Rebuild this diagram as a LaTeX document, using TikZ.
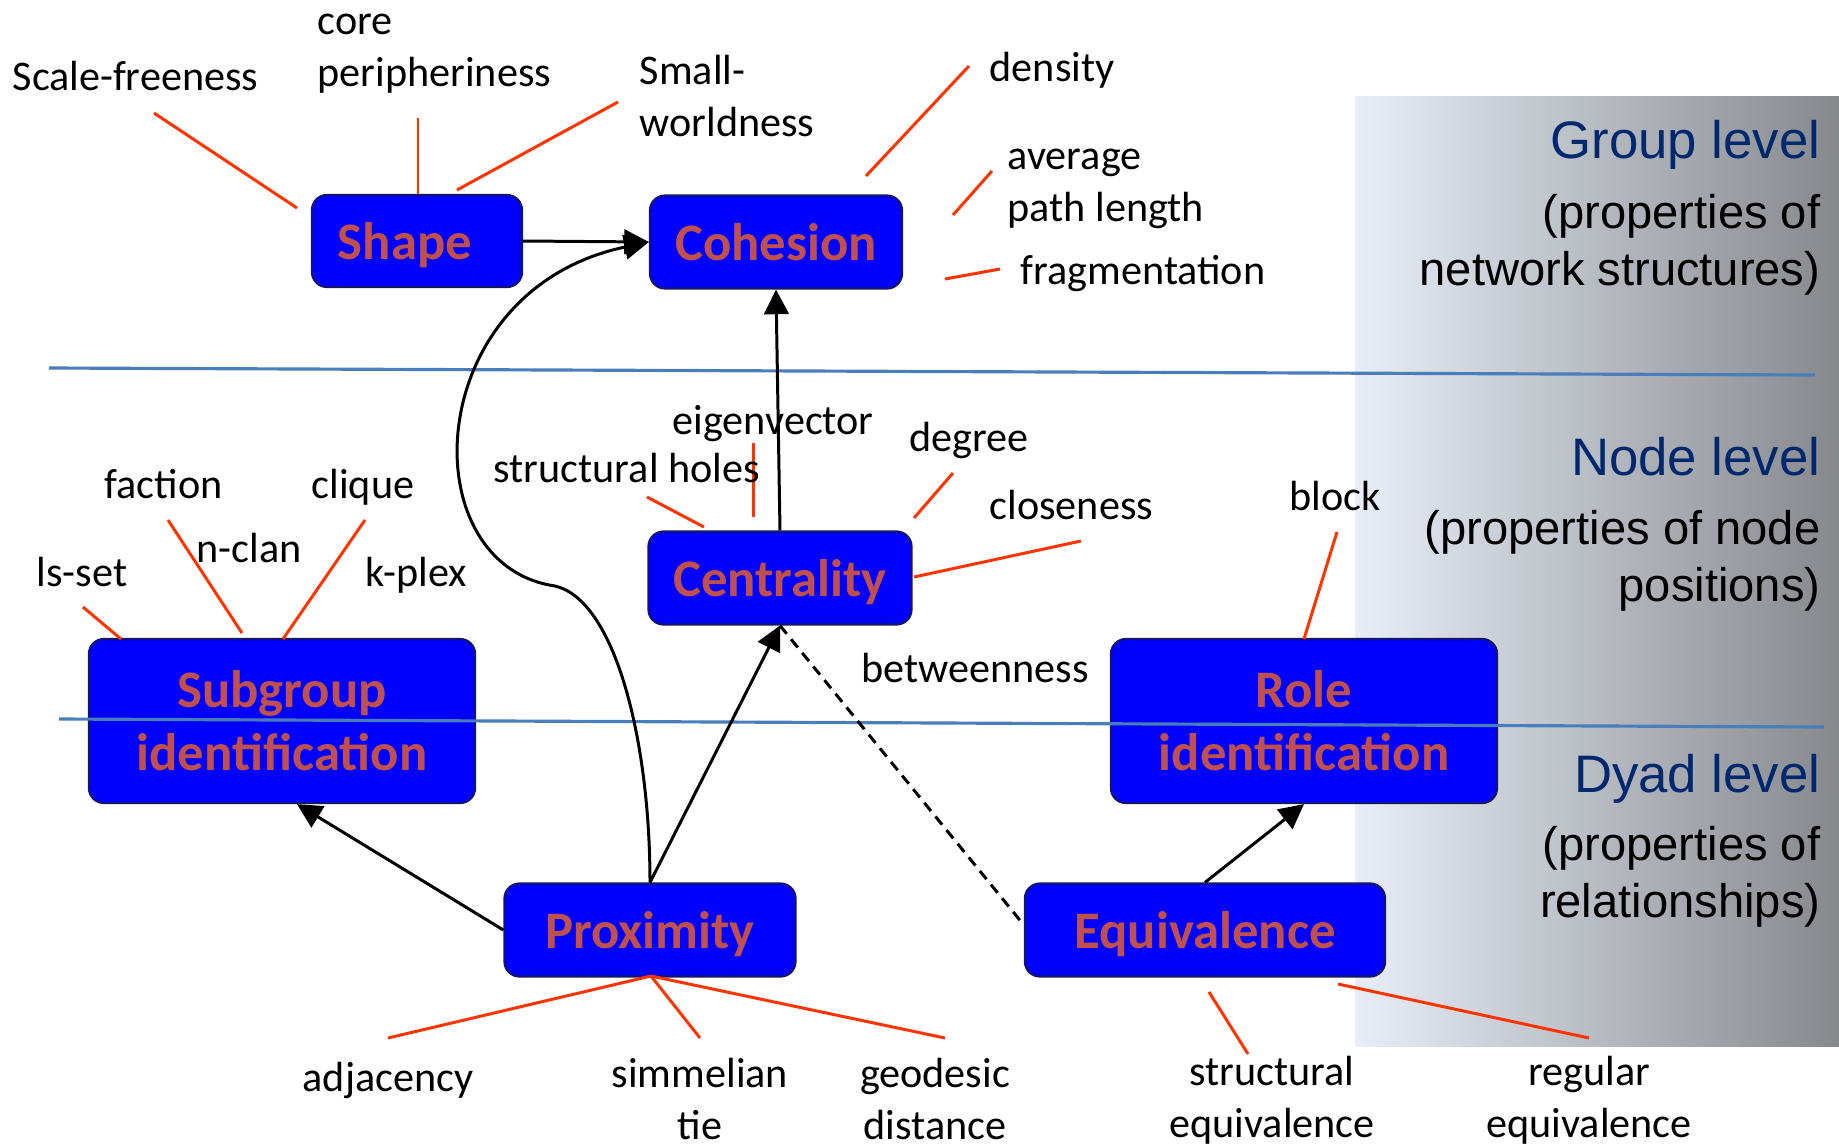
\documentclass[tikz,border=0pt]{standalone}
\usepackage{fontspec}
\setmainfont{Carlito}
\newfontfamily\arialf{Liberation Sans}
\usetikzlibrary{arrows.meta,calc}
\definecolor{boxblue}{RGB}{0,0,255}
\definecolor{boxedge}{RGB}{20,20,110}
\definecolor{boxtext}{RGB}{192,80,77}
\definecolor{redline}{RGB}{255,51,0}
\definecolor{sepline}{RGB}{74,126,187}
\definecolor{lvlblue}{RGB}{0,40,110}
\definecolor{panelL}{RGB}{232,238,247}
\definecolor{panelR}{RGB}{134,136,140}
\begin{document}
\begin{tikzpicture}[x=0.01cm,y=-0.01cm,
 box/.style={draw=boxedge, line width=0.6pt, fill=boxblue, rounded corners=0.15cm, text=boxtext, font=\fontsize{15}{18}\selectfont\bfseries, align=center, inner sep=0},
 sbox/.style={box, text height=10.5pt, text depth=0pt},
 lbl/.style={inner sep=0, font=\fontsize{12}{14.8}\selectfont, anchor=west, align=left},
 slbl/.style={lbl, text height=8.4pt, text depth=0pt},
 clbl/.style={inner sep=0, font=\fontsize{12}{14.8}\selectfont, align=center},
 sclbl/.style={clbl, text height=8.4pt, text depth=0pt},
 spoke/.style={draw=redline, line width=0.85pt},
 arr/.style={draw=black, line width=0.85pt, -{Triangle[length=7pt,width=7pt]}},
 lvl/.style={inner sep=0, anchor=east, font=\arialf\fontsize{15}{18}\selectfont, text=lvlblue, text height=10.8pt, text depth=0pt},
 lvld/.style={inner sep=0, anchor=east, align=right, font=\arialf\fontsize{13.4}{16.2}\selectfont},
]
\useasboundingbox (0,0) rectangle (1839,1145);
% gradient panel
\shade[left color=panelL, right color=panelR] (1355,96) rectangle (1839,1046);

% level texts
\node[lvl] (gl) at (1821,140) {Group level};
\node[lvld] (gld) at (1821,245) {(properties of\\network structures)};
\node[lvl] (nl) at (1821,456) {Node level};
\node[lvld] (nld) at (1821,561) {(properties of node\\positions)};
\node[lvl] (dl) at (1821,773) {Dyad level};
\node[lvld] (dld) at (1821,877) {(properties of\\relationships)};

% boxes
\node[sbox, minimum width=2.10cm, minimum height=0.92cm] (shape) at (417,241) {Shape\hspace*{0.24cm}};
\node[sbox, minimum width=2.52cm, minimum height=0.93cm] (coh) at (776,242) {Cohesion};
\node[sbox, minimum width=2.63cm, minimum height=0.93cm] (cen) at (780,578) {Centrality};
\node[box, minimum width=3.86cm, minimum height=1.64cm] (sub) at (282,721) {Subgroup\\identification};
\node[box, minimum width=3.86cm, minimum height=1.64cm] (role) at (1304,721) {Role\\identification};
\node[sbox, minimum width=2.91cm, minimum height=0.93cm] (prox) at (650,930) {Proximity};
\node[sbox, minimum width=3.60cm, minimum height=0.93cm] (equ) at (1205,930) {Equivalence};

% separator lines
\draw[sepline, line width=0.9pt] (49,368) -- (1815,375);
\draw[sepline, line width=0.9pt] (59,719) -- (1824,727);

% red spokes
\draw[spoke] (154,113) -- (297,208);
\draw[spoke] (418,118) -- (418,194);
\draw[spoke] (618,102) -- (457,190);
\draw[spoke] (969,66) -- (866,176);
\draw[spoke] (992,171) -- (953,215);
\draw[spoke] (1000,269) -- (945,279);
\draw[spoke] (168,520) -- (242,633);
\draw[spoke] (365,520) -- (283,639);
\draw[spoke] (83,607) -- (121,639);
\draw[spoke] (647,497) -- (704,527);
\draw[spoke] (753,443) -- (753,517);
\draw[spoke] (953,473) -- (914,518);
\draw[spoke] (1081,541) -- (914,577);
\draw[spoke] (1337,532) -- (1304,639);
\draw[spoke] (388,1038) -- (651,976);
\draw[spoke] (700,1038) -- (651,976);
\draw[spoke] (945,1038) -- (651,976);
\draw[spoke] (1248,1054) -- (1209,992);
\draw[spoke] (1589,1038) -- (1338,984);

% arrows
\draw[arr] (shape.east) -- (coh.west);
\draw[arr] (cen.north) -- (coh.south);
\draw[arr] (prox.north) -- (cen.south);
\draw[arr] (prox.west) -- ([xshift=0.15cm]sub.south);
\draw[arr] (equ.north) -- (role.south);
\draw[black, line width=0.85pt, dash pattern=on 3pt off 2pt] (cen.south) -- ([yshift=0.05cm]equ.west);
\draw[arr] (prox.north) .. controls (650,740) and (615,600) .. (555,586)
  .. controls (410,565) and (420,290) .. (coh.west);

% labels
\node[slbl] (sf) at (12,76) {Scale-freeness};
\node[lbl] (cp) at (317,54) {core\\peripheriness};
\node[lbl] (sw) at (639,96) {Small-\\worldness};
\node[slbl] (den) at (989,67) {density};
\node[lbl] (apl) at (1007,189) {average\\path length};
\node[slbl] (frag) at (1020,270) {fragmentation};
\node[slbl] (eig) at (672,420) {eigenvector};
\node[slbl] (sh) at (493,468) {structural holes};
\node[slbl] (deg) at (909,437) {degree};
\node[slbl] (clo) at (989,505) {closeness};
\node[slbl] (fac) at (104,484) {faction};
\node[slbl] (cli) at (311,484) {clique};
\node[slbl] (ncl) at (196,548) {n-clan};
\node[slbl] (ls) at (36,572) {ls-set};
\node[slbl] (kp) at (365,572) {k-plex};
\node[slbl] (blk) at (1289,496) {block};
\node[slbl] (btw) at (861,668) {betweenness};
\node[sclbl] (adj) at (388,1077) {adjacency};
\node[clbl] (sim) at (700,1099) {simmelian\\tie};
\node[clbl] (geo) at (935,1099) {geodesic\\distance};
\node[clbl] (seq) at (1272,1100) {structural\\equivalence};
\node[clbl] (req) at (1589,1100) {regular\\equivalence};
\end{tikzpicture}
\end{document}
